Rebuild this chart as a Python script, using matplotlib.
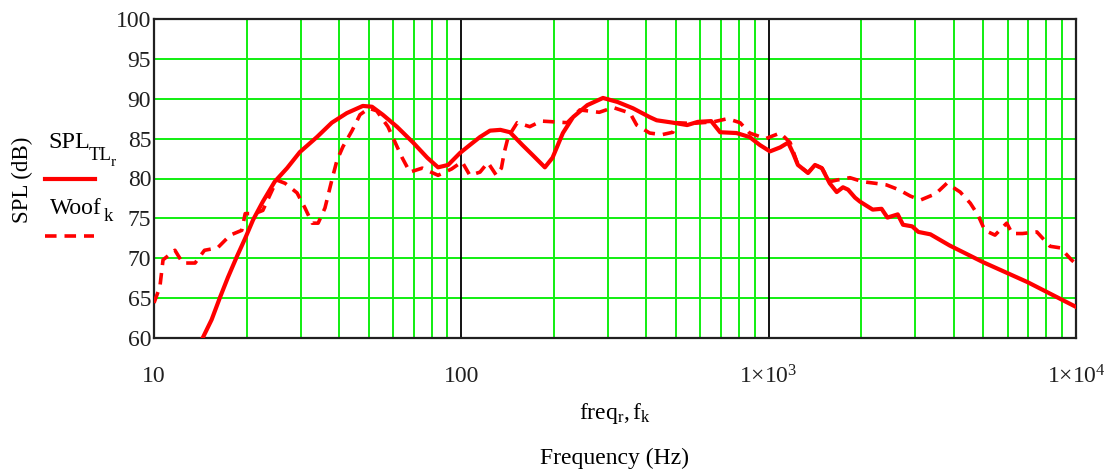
import numpy as np
import matplotlib
matplotlib.use("Agg")
import matplotlib.pyplot as plt
from matplotlib.lines import Line2D

plt.rcParams['font.family'] = ['Liberation Serif', 'DejaVu Serif']
plt.rcParams['mathtext.fontset'] = 'custom'
plt.rcParams['mathtext.rm'] = 'Liberation Serif'
plt.rcParams['mathtext.it'] = 'Liberation Serif:italic'

# Modelled response of the TL enclosure (SPL_TL)
freq_tl = [14.4, 15.4, 16.4, 17.4, 18.6, 19.8, 21.0, 22.6, 24.7, 27.1, 29.8, 33.9,
           37.9, 42.4, 47.8, 51.2, 55.5, 61.7, 69.7, 77.5, 84, 90.6, 99, 106.6,
           115, 124, 134, 144, 158, 171, 187, 198, 214, 231, 257, 289, 322, 362,
           410, 432, 488, 543, 588, 650, 695, 786, 867, 936, 1010, 1090, 1157,
           1200, 1245, 1343, 1415, 1490, 1580, 1665, 1745, 1813, 1910, 1982,
           2180, 2330, 2435, 2630, 2736, 2930, 3070, 3360, 3880, 4990, 6960, 10000]
spl_tl = [60, 62.3, 65.1, 67.6, 70.2, 72.5, 74.8, 77.1, 79.6, 81.3, 83.3, 85.2,
          87, 88.2, 89.1, 89, 88, 86.5, 84.5, 82.6, 81.4, 81.7, 83.2, 84.2,
          85.2, 86, 86.1, 85.8, 84.2, 82.9, 81.4, 82.6, 85.7, 87.7, 89.2, 90.1, 89.6, 88.8,
          87.7, 87.3, 87, 86.7, 87.1, 87.2, 85.8, 85.7, 85.2, 84.2, 83.4, 83.9, 84.5,
          83.2, 81.7, 80.7, 81.7, 81.3, 79.4, 78.3, 78.9, 78.6, 77.6, 77.1,
          76.1, 76.2, 75.1, 75.5, 74.2, 74.0, 73.3, 73, 71.6, 69.5, 67, 63.9]

# Measured woofer response (Woof)
freq_woof = [10, 10.45, 10.7, 11.7, 12.4, 13.6, 14.6, 16.1, 17.7, 19.3, 19.8, 21.3,
             22.6, 25.1, 26.7, 29.2, 31, 32.7, 34.2, 36, 37.9, 39.4, 41.2, 44.1,
             46.8, 50, 53, 57.7, 64, 68, 74.6, 84, 93, 100.5, 106.6, 115,
             122, 130, 135, 138, 142, 152, 167, 182, 201, 221, 243, 281, 312, 354,
             372, 410, 450, 488, 501, 560, 660, 735, 807, 867, 978, 1090, 1175,
             1245, 1343, 1415, 1490, 1580, 1665, 1838, 2024, 2220, 2415, 2650, 2890,
             3120, 3500, 3800, 4200, 4530, 4800, 5050, 5450, 5950, 6200, 6700,
             7460, 8230, 8900, 9660, 10000]
spl_woof = [64.4, 66.4, 69.8, 71, 69.4, 69.4, 71, 71.3, 72.9, 73.5, 75.6, 75.6,
            76, 79.8, 79.4, 78.2, 76.3, 74.4, 74.4, 76.3, 79.8, 82.3, 84, 86,
            88, 88.8, 88.5, 86.5, 82.7, 80.8, 81.3, 80.4, 81.2, 82.1, 80.4, 80.8,
            82, 80.4, 81.3, 83.3, 85.2, 87, 86.5, 87.2, 87.1, 87, 88.6, 88.3, 88.9, 88.2,
            86.7, 85.7, 85.5, 85.8, 87, 86.9, 87.1, 87.5, 87, 85.7, 85, 85.7, 84.5,
            81.7, 80.7, 81.7, 81.3, 79.6, 79.8, 80.1, 79.6, 79.4, 79.2, 78.6, 77.8,
            77.3, 78.1, 79.4, 78.3, 76.9, 75.4, 73.5, 72.9, 74.4, 73.1, 73.1,
            73.3, 71.5, 71.3, 69.8, 69.3]

x_ticks = [10, 100, 1000, 10000]
x_tick_labels = ['10', '100', '1×10$^{3}$', '1×10$^{4}$']
y_ticks = [60, 65, 70, 75, 80, 85, 90, 95, 100]

fig = plt.figure(figsize=(11.14, 4.70), dpi=100)
ax = fig.add_axes([154 / 1114, 1 - 338 / 470, 922 / 1114, 319 / 470])

red = '#ff0000'
green = '#11ee11'

ax.plot(freq_tl, spl_tl, color=red, lw=3, zorder=4)
ax.plot(freq_woof, spl_woof, color=red, lw=2.6, dashes=(3.2, 2.2), zorder=3)

ax.set_xscale('log')
ax.set_xlim(10, 10000)
ax.set_ylim(60, 100)

# green grid; black lines on the decades
for dec in [10, 100, 1000]:
    for m in range(2, 10):
        ax.axvline(dec * m, color=green, lw=1.4, zorder=1)
for d in [100, 1000]:
    ax.axvline(d, color='black', lw=1.3, zorder=2)
for y in y_ticks[1:-1]:
    ax.axhline(y, color=green, lw=1.4, zorder=1)

ax.set_xticks(x_ticks)
ax.set_xticklabels(x_tick_labels)
ax.xaxis.set_minor_locator(matplotlib.ticker.NullLocator())
ax.set_yticks(y_ticks)
ax.tick_params(axis='both', length=0, labelsize=17, colors='#202020')
ax.tick_params(axis='x', pad=20)
ax.tick_params(axis='y', pad=2)
for s in ax.spines.values():
    s.set_linewidth(1.6)
    s.set_color('#202020')

fig.text(22 / 1114, 1 - 180 / 470, 'SPL (dB)', rotation=90, ha='center',
         va='center', fontsize=16.5)

# legend at the left of the axis
def ftext(x, y, s, size):
    fig.text(x / 1114, 1 - y / 470, s, ha='left', va='baseline', fontsize=size)

ftext(48, 148, 'SPL', 17.5)
ftext(89, 160, 'TL', 13.5)
ftext(111, 166, 'r', 11)
fig.add_artist(Line2D([45 / 1114, 95 / 1114], [1 - 179 / 470] * 2,
                      color=red, lw=3, transform=fig.transFigure))
ftext(50, 214, 'Woof', 17)
ftext(104, 221, 'k', 13.5)
fig.add_artist(Line2D([45 / 1114, 94 / 1114], [1 - 236 / 470] * 2,
                      color=red, lw=2.6, dashes=(3.2, 2.2),
                      transform=fig.transFigure))

fig.text(615 / 1114, 1 - 413 / 470, r'$\mathrm{freq}_{\mathrm{r}}, \mathrm{f}_{\mathrm{k}}$',
         ha='center', va='center', fontsize=17)
fig.text(615 / 1114, 1 - 458 / 470, 'Frequency (Hz)', ha='center',
         va='center', fontsize=17)

fig.savefig('out.png', dpi=100)
